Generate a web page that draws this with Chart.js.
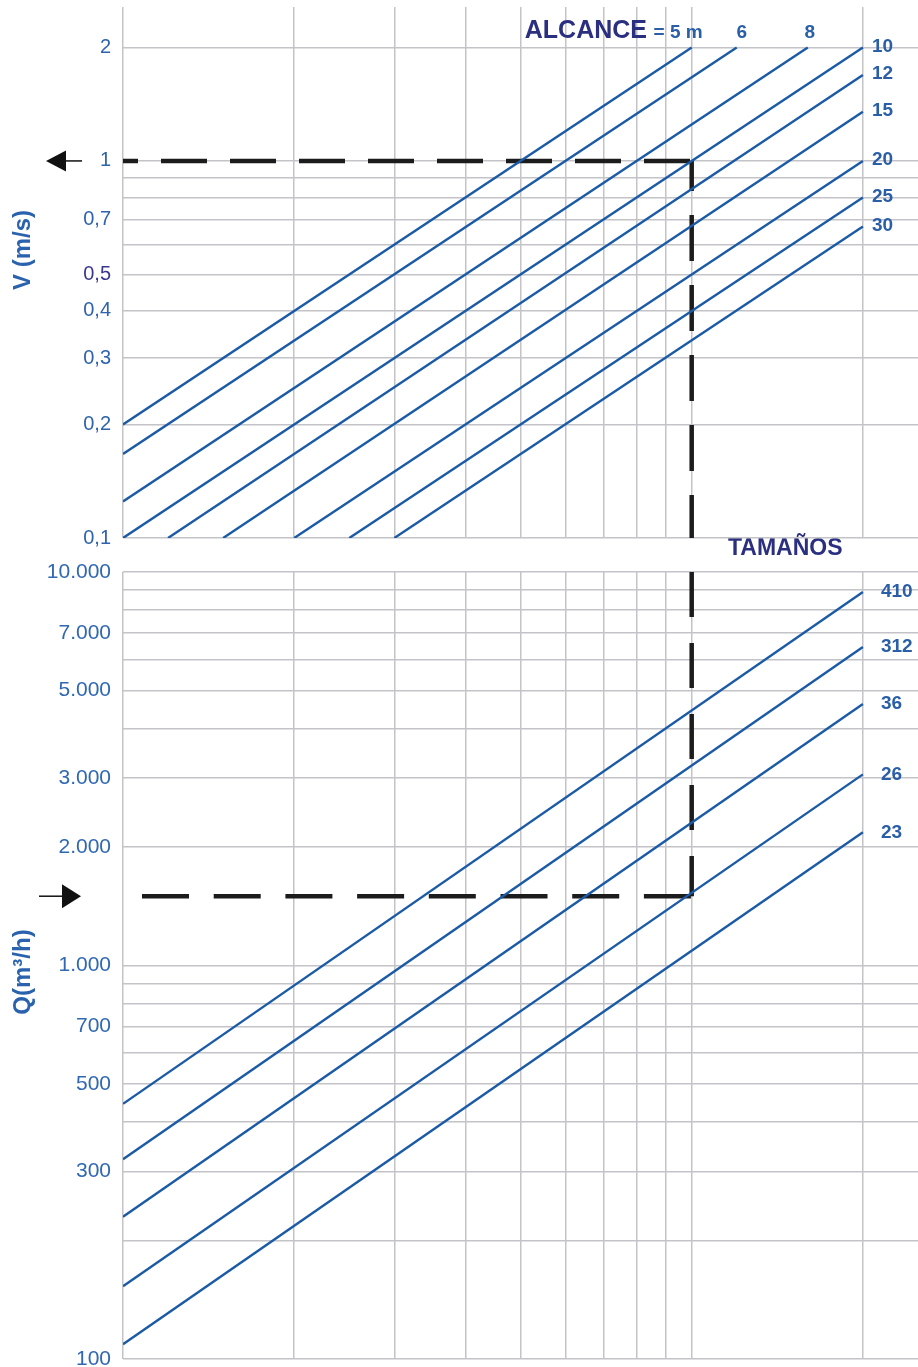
<!DOCTYPE html>
<html>
<head>
<meta charset="utf-8">
<script src="https://cdn.jsdelivr.net/npm/chart.js@4.4.1/dist/chart.umd.min.js"></script>
<style>
  html, body { margin: 0; padding: 0; background: #fff; }
  #wrap { position: relative; width: 918px; height: 1367px; }
  canvas { position: absolute; left: 0; top: 0; }
</style>
</head>
<body>
<div id="wrap">
  <canvas id="chartQ" width="918" height="1367"></canvas>
  <canvas id="chartV" width="918" height="1367"></canvas>
</div>
<script>
// common horizontal axis (log, no labels)
const xGrid = [1, 2, 3, 4, 5, 6, 7, 8, 9, 10, 20];

// top panel: V (m/s) by ALCANCE
const vGrid = [0.1, 0.2, 0.3, 0.4, 0.5, 0.6, 0.7, 0.8, 0.9, 1, 2];
const vTickLabels = ['0,1', '0,2', '0,3', '0,4', '0,5', '', '0,7', '', '', '1', '2'];
const alcance = [5, 6, 8, 10, 12, 15, 20, 25, 30];
const alcanceX0 = [1, 1, 1, 1, 1.2, 1.5, 2, 2.5, 3];
const alcanceV0 = [0.2, 0.167, 0.125, 0.1, 0.1, 0.1, 0.1, 0.1, 0.1];
const alcanceX1 = [10, 12, 16, 20, 20, 20, 20, 20, 20];
const alcanceV1 = [2, 2, 2, 2, 1.69, 1.35, 1, 0.8, 0.67];

// bottom panel: Q (m3/h) by TAMAÑOS
const qGrid = [100, 200, 300, 400, 500, 600, 700, 800, 900, 1000,
               2000, 3000, 4000, 5000, 6000, 7000, 8000, 9000, 10000];
const qTickLabels = ['100', '', '300', '', '500', '', '700', '', '', '1.000',
                     '2.000', '3.000', '', '5.000', '', '7.000', '', '', '10.000'];
const tamanos = ['410', '312', '36', '26', '23'];
const tamanoX0 = [1, 1, 1, 1, 1];
const tamanoQ0 = [445, 322, 230, 153, 109];
const tamanoX1 = [20, 20, 20, 20, 20];
const tamanoQ1 = [8900, 6450, 4620, 3060, 2180];

// worked example (dashed)
const ejemploX = 10;
const ejemploV = 1;
const ejemploQ = 1500;
const ejemploQx0 = 1.08;

const FONT = "'Liberation Sans', Arial, Helvetica, sans-serif";
const BLUE = '#1b5aa5';
const LABEL = '#2a5fa8';
const NAVY = '#2b2f80';
const GRID = '#c4c4c8';
const DASH = '#1c1c1c';

function xScale() {
  return {
    type: 'logarithmic', min: 1, max: 25,
    border: { display: false },
    grid: { color: GRID, lineWidth: 1.5, drawTicks: false },
    ticks: { display: false },
    afterBuildTicks: s => { s.ticks = xGrid.map(v => ({ value: v })); }
  };
}

function yScale(min, max, grid, labels, size, color) {
  return {
    type: 'logarithmic', min: min, max: max,
    border: { display: false },
    grid: { color: GRID, lineWidth: 1.5, drawTicks: false },
    ticks: {
      autoSkip: false, padding: 12, color: color,
      font: { family: FONT, size: size },
      callback: (v, i) => labels[i]
    },
    afterBuildTicks: s => { s.ticks = grid.map(v => ({ value: v })); },
    afterFit: s => { s.width = 123; s.paddingTop = 0; s.paddingBottom = 0; }
  };
}

function lineSet(x0, y0, x1, y1, label) {
  return {
    data: [{ x: x0, y: y0 }, { x: x1, y: y1 }],
    borderColor: BLUE, borderWidth: 2.4, pointRadius: 0, showLine: true,
    endLabel: label
  };
}

function dashSet(points, dash, offset) {
  return {
    data: points, borderColor: DASH, borderWidth: 4.5, pointRadius: 0,
    showLine: true, borderDash: dash, borderDashOffset: offset
  };
}

const annot = {
  id: 'annot',
  afterDatasetsDraw(chart, args, opts) {
    const ctx = chart.ctx;
    ctx.save();
    chart.data.datasets.forEach((ds, i) => {
      const l = ds.endLabel;
      if (!l) return;
      const p = chart.getDatasetMeta(i).data[1];
      ctx.font = 'bold 19px ' + FONT;
      ctx.fillStyle = LABEL;
      if (l.above) {
        ctx.textAlign = l.align;
        ctx.textBaseline = 'alphabetic';
        ctx.fillText(l.text, p.x + l.dx, p.y - 9);
      } else {
        ctx.textAlign = 'left';
        ctx.textBaseline = 'middle';
        ctx.fillText(l.text, p.x + l.dx, p.y + l.dy);
      }
    });
    (opts.texts || []).forEach(t => {
      ctx.save();
      ctx.font = t.font;
      ctx.fillStyle = t.color;
      ctx.textAlign = t.align || 'left';
      ctx.textBaseline = t.baseline || 'middle';
      ctx.translate(t.x, t.y);
      if (t.rotate) ctx.rotate(t.rotate);
      ctx.fillText(t.text, 0, 0);
      ctx.restore();
    });
    (opts.arrows || []).forEach(a => {
      const y = chart.scales.y.getPixelForValue(a.value);
      ctx.strokeStyle = '#111';
      ctx.fillStyle = '#111';
      ctx.lineWidth = 1.5;
      ctx.beginPath();
      ctx.moveTo(a.tail, y);
      ctx.lineTo(a.base, y);
      ctx.stroke();
      ctx.beginPath();
      ctx.moveTo(a.tip, y);
      ctx.lineTo(a.base, y - a.half);
      ctx.lineTo(a.base, y + a.half);
      ctx.closePath();
      ctx.fill();
    });
    ctx.restore();
  }
};

// top chart
const vSets = alcance.map((a, i) => {
  const atTop = alcanceX1[i] < 20;
  const label = i === 0
    ? { text: '= ' + a + ' m', above: true, align: 'right', dx: 11 }
    : atTop
      ? { text: String(a), above: true, align: 'center', dx: i === 1 ? 5 : 2 }
      : { text: String(a), above: false, dx: 9, dy: -1 };
  return lineSet(alcanceX0[i], alcanceV0[i], alcanceX1[i], alcanceV1[i], label);
});
vSets.push(dashSet([{ x: 1, y: ejemploV }, { x: ejemploX, y: ejemploV }], [46, 23], 31));
vSets.push(dashSet([{ x: ejemploX, y: ejemploV }, { x: ejemploX, y: 0.1 }], [46, 24], 16));

new Chart('chartV', {
  type: 'scatter',
  data: { datasets: vSets },
  options: {
    responsive: false, animation: false,
    layout: { padding: { top: 7, bottom: 829, left: 0, right: 0 } },
    scales: {
      x: xScale(),
      y: yScale(0.1, 2.56, vGrid, vTickLabels, 20,
        c => c.tick && c.tick.value === 0.5 ? '#3a3790' : '#2e63ad')
    },
    plugins: {
      legend: { display: false },
      tooltip: { enabled: false },
      annot: {
        texts: [
          { text: 'ALCANCE', x: 647, y: 38, align: 'right', baseline: 'alphabetic',
            font: 'bold 25px ' + FONT, color: NAVY },
          { text: 'V (m/s)', x: 23, y: 250, align: 'center', rotate: -Math.PI / 2,
            font: 'bold 24px ' + FONT, color: '#2a62ae' }
        ],
        arrows: [{ value: ejemploV, tip: 46, base: 66, tail: 82, half: 10.5 }]
      }
    }
  },
  plugins: [annot]
});

// bottom chart
const qSets = tamanos.map((t, i) =>
  lineSet(tamanoX0[i], tamanoQ0[i], tamanoX1[i], tamanoQ1[i], { text: t, above: false, dx: 18, dy: 0 }));
qSets.push(dashSet([{ x: ejemploQx0, y: ejemploQ }, { x: ejemploX, y: ejemploQ }], [47, 24.7], 0));
qSets.push(dashSet([{ x: ejemploX, y: 10000 }, { x: ejemploX, y: ejemploQ }], [45, 26], 0));

new Chart('chartQ', {
  type: 'scatter',
  data: { datasets: qSets },
  options: {
    responsive: false, animation: false,
    layout: { padding: { top: 572, bottom: 8, left: 0, right: 0 } },
    scales: {
      x: xScale(),
      y: yScale(100, 10000, qGrid, qTickLabels, 21, '#3068b2')
    },
    plugins: {
      legend: { display: false },
      tooltip: { enabled: false },
      annot: {
        texts: [
          { text: 'TAMAÑOS', x: 728, y: 549, align: 'left',
            font: 'bold 23px ' + FONT, color: NAVY },
          { text: 'Q(m³/h)', x: 23, y: 972, align: 'center', rotate: -Math.PI / 2,
            font: 'bold 24px ' + FONT, color: '#2a62ae' }
        ],
        arrows: [{ value: ejemploQ, tip: 81, base: 62, tail: 39, half: 12 }]
      }
    }
  },
  plugins: [annot]
});
</script>
</body>
</html>
